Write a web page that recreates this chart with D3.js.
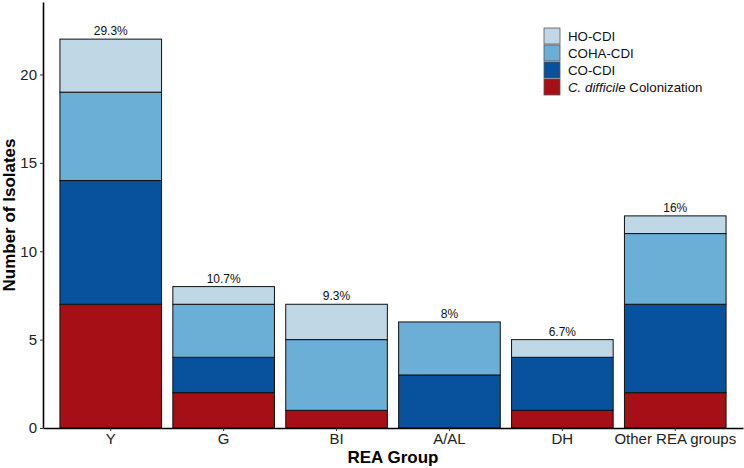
<!DOCTYPE html>
<html>
<head>
<meta charset="utf-8">
<script src="https://cdn.jsdelivr.net/npm/d3@7"></script>
<style>
  body { margin: 0; background: #fff; }
  text { font-family: "Liberation Sans", Arial, sans-serif; }
</style>
</head>
<body>
<svg id="chart" width="744" height="468"></svg>
<script>
var width = 744;
var height = 468;

// Data
var groups = ["Y", "G", "BI", "A/AL", "DH", "Other REA groups"];
var colonization = [7, 2, 1, 0, 1, 2];
var co_cdi = [7, 2, 0, 3, 3, 5];
var coha_cdi = [5, 3, 4, 3, 0, 4];
var ho_cdi = [3, 1, 2, 0, 1, 1];
var pct_labels = ["29.3%", "10.7%", "9.3%", "8%", "6.7%", "16%"];
var y_ticks = [0, 5, 10, 15, 20];

var series = [
    {key: "colonization", values: colonization, color: "#a50f15"},
    {key: "co", values: co_cdi, color: "#08519c"},
    {key: "coha", values: coha_cdi, color: "#6baed6"},
    {key: "ho", values: ho_cdi, color: "#c0d7e6"}
];

// Margins
var left = 43;
var right = 743;
var bottom = 428;
var top_y = 2;

var svg = d3.select("#chart");

var x_scale = d3.scaleBand()
    .domain(groups)
    .range([left, right])
    .paddingInner(0.1)
    .paddingOuter(0.15);

var y_scale = d3.scaleLinear()
    .domain([0, 24.1])
    .range([bottom, top_y]);

// Stacked bars
var rows = groups.map(function(g, i) {
    var row = {group: g};
    series.forEach(function(s) { row[s.key] = s.values[i]; });
    return row;
});
var stack = d3.stack().keys(series.map(s => s.key))(rows);

stack.forEach(function(layer, li) {
    svg.append("g")
        .selectAll("rect")
        .data(layer.filter(d => d[1] > d[0]))
        .enter()
        .append("rect")
        .attr("x", d => x_scale(d.data.group))
        .attr("y", d => y_scale(d[1]))
        .attr("width", x_scale.bandwidth())
        .attr("height", d => y_scale(d[0]) - y_scale(d[1]))
        .attr("fill", series[li].color)
        .attr("stroke", "#111")
        .attr("stroke-width", 1);
});

// Percent labels
var totals = rows.map(r => series.reduce((a, s) => a + r[s.key], 0));
svg.append("g")
    .selectAll("text")
    .data(groups)
    .enter()
    .append("text")
    .attr("x", d => x_scale(d) + x_scale.bandwidth() / 2)
    .attr("y", (d, i) => y_scale(totals[i]) - 4)
    .attr("text-anchor", "middle")
    .attr("font-size", "12px")
    .attr("fill", "#111")
    .text((d, i) => pct_labels[i]);

// Axes
var y_axis = svg.append("g")
    .attr("transform", "translate(" + left + ",0)")
    .call(d3.axisLeft(y_scale).tickValues(y_ticks).tickSize(3).tickSizeOuter(0).tickPadding(3));
y_axis.select(".domain").attr("stroke-width", 1.6).attr("stroke", "#000");
y_axis.selectAll(".tick line").attr("stroke", "#333");
y_axis.selectAll(".tick text").attr("font-size", "15px").attr("fill", "#222")
    .style("font-family", "'Liberation Sans', Arial, sans-serif");

var x_axis = svg.append("g")
    .attr("transform", "translate(0," + bottom + ")")
    .call(d3.axisBottom(x_scale).tickSize(3).tickSizeOuter(0).tickPadding(2));
x_axis.select(".domain").attr("stroke-width", 1.6).attr("stroke", "#000");
x_axis.selectAll(".tick line").attr("stroke", "#333");
x_axis.selectAll(".tick text").attr("font-size", "15px").attr("fill", "#222")
    .style("font-family", "'Liberation Sans', Arial, sans-serif");

// Axis titles
svg.append("text")
    .attr("x", (left + right) / 2)
    .attr("y", 463)
    .attr("text-anchor", "middle")
    .attr("font-size", "17px")
    .attr("font-weight", "bold")
    .text("REA Group");
svg.append("text")
    .attr("transform", "translate(15," + ((top_y + bottom) / 2) + ") rotate(-90)")
    .attr("text-anchor", "middle")
    .attr("font-size", "17px")
    .attr("font-weight", "bold")
    .text("Number of Isolates");

// Legend
var legend_items = [
    {color: "#c0d7e6", label: "HO-CDI"},
    {color: "#6baed6", label: "COHA-CDI"},
    {color: "#08519c", label: "CO-CDI"},
    {color: "#a50f15", label: null}
];
var legend = svg.append("g").attr("transform", "translate(544,28)");
var item = legend.selectAll("g")
    .data(legend_items)
    .enter()
    .append("g")
    .attr("transform", (d, i) => "translate(0," + (i * 17) + ")");
item.append("rect")
    .attr("width", 16)
    .attr("height", 16)
    .attr("fill", d => d.color)
    .attr("stroke", "#555")
    .attr("stroke-width", 0.8);
var lt = item.append("text")
    .attr("x", 24)
    .attr("y", 8)
    .attr("dy", "0.35em")
    .attr("font-size", "13.3px")
    .attr("fill", "#111");
lt.filter(d => d.label !== null).text(d => d.label);
var col = lt.filter(d => d.label === null);
col.append("tspan").attr("font-style", "italic").text("C. difficile");
col.append("tspan").text(" Colonization");
</script>
</body>
</html>
